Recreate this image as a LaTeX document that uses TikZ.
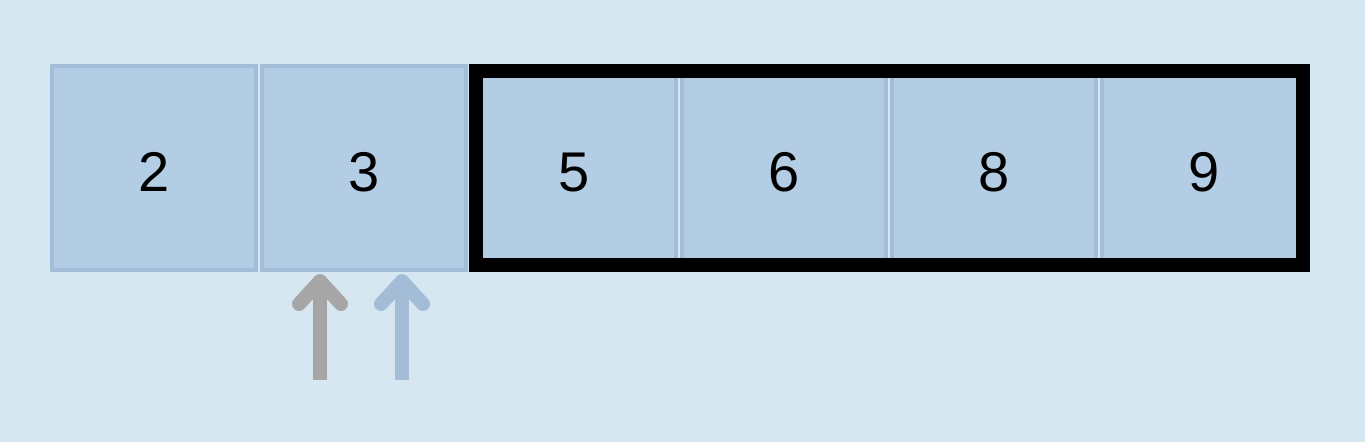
\documentclass[tikz,border=0pt]{standalone}
\usepackage{fontspec}
\setmainfont{Liberation Sans}
\definecolor{bg}{HTML}{D6E7F1}
\definecolor{cellfill}{HTML}{B3CDE4}
\definecolor{celledge}{HTML}{A3BED8}
\definecolor{grayarrow}{HTML}{A6A6A6}
\definecolor{bluearrow}{HTML}{A3BDD6}
\begin{document}
\begin{tikzpicture}[x=1pt,y=-1pt,
  cell/.style={draw=celledge,fill=cellfill,line width=4pt,minimum width=204pt,minimum height=204pt,inner sep=0pt,anchor=north west,font=\fontsize{56}{60}\selectfont},
  ptr/.style={line width=14pt,line join=round}]
\useasboundingbox[fill=bg] (0,0) rectangle (1365,442);
\foreach \v [count=\i from 0] in {2,3,5,6,8,9}{
  \node[cell] (c\i) at (50+210*\i,64) {\raisebox{-4pt}[\height][0pt]{\v}};
}
\draw[black,line width=14pt] (476,71) rectangle (1303,265);
% pointers
\coordinate (g0) at (320,380); \coordinate (g1) at (320,281);
\coordinate (b0) at (402,380); \coordinate (b1) at (402,281);
\draw[ptr,grayarrow] (g0) -- (g1);
\draw[ptr,grayarrow,line cap=round] ([shift={(-21,23)}]g1) -- (g1) -- ([shift={(21,23)}]g1);
\draw[ptr,bluearrow] (b0) -- (b1);
\draw[ptr,bluearrow,line cap=round] ([shift={(-21,23)}]b1) -- (b1) -- ([shift={(21,23)}]b1);
\end{tikzpicture}
\end{document}
